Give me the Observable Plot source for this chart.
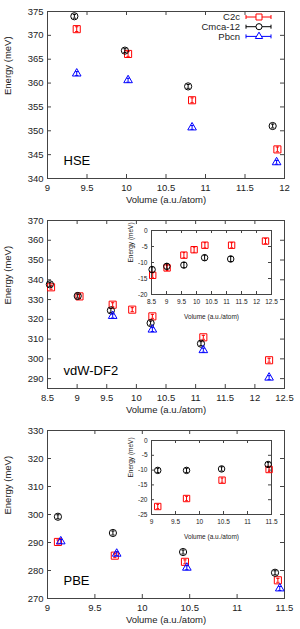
<!DOCTYPE html>
<html><head><meta charset="utf-8">
<script src="https://cdn.jsdelivr.net/npm/d3@7"></script>
<script src="https://cdn.jsdelivr.net/npm/@observablehq/plot@0.6"></script>
<style>
body{margin:0;background:#fff;}
#wrap{position:relative;width:300px;height:629px;overflow:hidden;font-family:"Liberation Sans",Arial,sans-serif;}
#wrap svg{position:absolute;}
</style></head><body><div id="wrap"></div>
<script>
const seriesNames = ["C2c", "Cmca-12", "Pbcn"];
const seriesColors = ["#ff0000", "#000000", "#0000ff"];
const seriesSymbols = ["square", "circle", "triangle"];

// HSE panel
const hseC2cV = [9.37, 10.02, 10.83, 11.91];
const hseC2cE = [371.3, 366.1, 356.4, 346.1];
const hseC2cErr = [0.5, 0.5, 0.5, 0.5];
const hseCmcaV = [9.34, 9.98, 10.78, 11.85];
const hseCmcaE = [374.0, 366.8, 359.3, 351.0];
const hseCmcaErr = [0.4, 0.4, 0.4, 0.4];
const hsePbcnV = [9.37, 10.02, 10.83, 11.90];
const hsePbcnE = [362.0, 360.6, 350.7, 343.4];
const hsePbcnErr = [0.4, 0.4, 0.4, 0.4];
const hseXTicks = [9, 9.5, 10, 10.5, 11, 11.5, 12];
const hseYTicks = [340, 345, 350, 355, 360, 365, 370, 375];

// vdW-DF2 panel
const vdwC2cV = [8.56, 9.04, 9.60, 9.93, 10.27, 11.13, 12.24];
const vdwC2cE = [336.2, 331.6, 327.4, 324.9, 321.5, 310.9, 299.3];
const vdwC2cErr = [1, 1, 1, 1, 1, 1, 1];
const vdwCmcaV = [8.54, 9.01, 9.57, 10.24, 11.09];
const vdwCmcaE = [337.7, 331.8, 324.5, 318.1, 307.7];
const vdwCmcaErr = [1, 1, 1, 1, 1];
const vdwPbcnV = [9.60, 10.27, 11.13, 12.24];
const vdwPbcnE = [321.7, 314.8, 304.4, 290.5];
const vdwPbcnErr = [1, 1, 1, 1];
const vdwXTicks = [8.5, 9, 9.5, 10, 10.5, 11, 11.5, 12, 12.5];
const vdwYTicks = [290, 300, 310, 320, 330, 340, 350, 360, 370];

// vdW-DF2 inset
const vdwInC2cV = [8.54, 9.02, 9.58, 9.92, 10.28, 11.17, 12.30];
const vdwInC2cE = [-14.0, -11.7, -7.7, -6.0, -4.6, -4.6, -3.3];
const vdwInC2cErr = [0.8, 0.8, 0.8, 0.8, 0.8, 0.8, 0.8];
const vdwInCmcaV = [8.52, 9.01, 9.58, 10.27, 11.14];
const vdwInCmcaE = [-12.2, -11.2, -10.8, -8.5, -8.9];
const vdwInCmcaErr = [0.8, 0.8, 0.8, 0.8, 0.8];
const vdwInXTicks = [8.5, 9, 9.5, 10, 10.5, 11, 11.5, 12, 12.5];
const vdwInYTicks = [-20, -15, -10, -5, 0];

// PBE panel
const pbeC2cV = [9.11, 9.71, 10.45, 11.43];
const pbeC2cE = [290.2, 285.3, 283.1, 276.5];
const pbeC2cErr = [0.7, 0.7, 0.7, 0.7];
const pbeCmcaV = [9.11, 9.69, 10.43, 11.40];
const pbeCmcaE = [299.2, 293.4, 286.6, 279.2];
const pbeCmcaErr = [0.7, 0.7, 0.7, 0.7];
const pbePbcnV = [9.14, 9.73, 10.47, 11.45];
const pbePbcnE = [290.4, 286.0, 281.0, 273.6];
const pbePbcnErr = [0.7, 0.7, 0.7, 0.7];
const pbeXTicks = [9, 9.5, 10, 10.5, 11, 11.5];
const pbeYTicks = [270, 280, 290, 300, 310, 320, 330];

// PBE inset
const pbeInC2cV = [9.13, 9.73, 10.47, 11.45];
const pbeInC2cE = [-22.3, -19.6, -13.4, -9.8];
const pbeInC2cErr = [0.7, 0.7, 0.7, 0.7];
const pbeInCmcaV = [9.13, 9.73, 10.46, 11.43];
const pbeInCmcaE = [-10.1, -10.1, -9.6, -8.1];
const pbeInCmcaErr = [0.7, 0.7, 0.7, 0.7];
const pbeInXTicks = [9, 9.5, 10, 10.5, 11, 11.5];
const pbeInYTicks = [-25, -20, -15, -10, -5, 0];

const FONT = "Liberation Sans, Arial, sans-serif";
const AXC = "#444";
const capSymbol = {draw(ctx, size) { const w = Math.sqrt(size / Math.PI); ctx.moveTo(-w, 0); ctx.lineTo(w, 0); }};
const symScale = [1, 0.9, 0.8];

function rows(v, e, err) { return v.map((x, i) => ({v: x, e: e[i], err: err[i]})); }

function seriesMarks(list, r, cap) {
  const marks = [];
  list.forEach(({data, idx}) => {
    const c = seriesColors[idx];
    marks.push(Plot.ruleX(data, {x: "v", y1: d => d.e - d.err, y2: d => d.e + d.err, stroke: c, strokeWidth: 1}));
    marks.push(Plot.dot(data, {x: "v", y: d => d.e - d.err, symbol: capSymbol, r: cap, stroke: c, strokeWidth: 1}));
    marks.push(Plot.dot(data, {x: "v", y: d => d.e + d.err, symbol: capSymbol, r: cap, stroke: c, strokeWidth: 1}));
    marks.push(Plot.dot(data, {x: "v", y: "e", symbol: seriesSymbols[idx], r: r * symScale[idx], stroke: c, fill: "none", strokeWidth: 1}));
  });
  return marks;
}

function panel(o) {
  const W = o.width - o.ml - o.mr, H = o.height - o.mt - o.mb;
  const xt = o.xticks, yt = o.yticks;
  const xin = xt.filter(t => t > o.xdom[0] && t < o.xdom[1]);
  const yin = yt.filter(t => t > o.ydom[0] && t < o.ydom[1]);
  const marks = [
    Plot.frame({stroke: AXC, strokeWidth: 1}),
    Plot.tickX(xin, {x: d => d, insetTop: H - o.tick, stroke: AXC}),
    Plot.tickX(xin, {x: d => d, insetBottom: H - o.tick, stroke: AXC}),
    Plot.tickY(yin, {y: d => d, insetRight: W - o.tick, stroke: AXC}),
    Plot.tickY(yin, {y: d => d, insetLeft: W - o.tick, stroke: AXC}),
    Plot.axisX({ticks: xt, tickSize: 0, tickPadding: o.xpad, tickFormat: d => String(d), label: null, fontSize: o.fs, fill: "#222"}),
    Plot.axisY({ticks: yt, tickSize: 0, tickPadding: o.ypad, tickFormat: d => String(d), label: null, fontSize: o.fs, fill: "#222"}),
    Plot.text(["Volume (a.u./atom)"], {frameAnchor: "bottom", dy: o.xtitle, fontSize: o.fs, fill: "#222"}),
    Plot.text(["Energy (meV)"], {frameAnchor: "left", dx: o.ytitle, rotate: -90, fontSize: o.fs, fill: "#222"}),
    ...seriesMarks(o.series, o.r, o.cap)
  ];
  if (o.name) marks.push(Plot.text([o.name], {frameAnchor: "bottom-left", dx: 16, dy: -14, fontSize: 13, fill: "#000", textAnchor: "start"}));
  const svg = Plot.plot({
    width: o.width, height: o.height,
    marginLeft: o.ml, marginRight: o.mr, marginTop: o.mt, marginBottom: o.mb,
    x: {domain: o.xdom}, y: {domain: o.ydom},
    style: {fontFamily: FONT, background: "transparent", overflow: "visible"},
    marks
  });
  svg.style.left = o.left + "px";
  svg.style.top = o.top + "px";
  return svg;
}

const wrap = document.getElementById("wrap");
const mainOpts = {width: 300, height: 210, ml: 47, mr: 16, mt: 11, tick: 4, xpad: 6, ypad: 4, fs: 9.5, xtitle: 24, ytitle: -40, r: 4, cap: 1.6, left: 0};
const inOpts = {width: 160, ml: 31, mr: 9, tick: 3, xpad: 5, ypad: 4, fs: 6.5, xtitle: 24, ytitle: -21, r: 3.6, cap: 1.3, left: 120};

wrap.appendChild(panel({...mainOpts, top: 0, mb: 32, name: "HSE",
  xdom: [9, 12], ydom: [340, 375], xticks: hseXTicks, yticks: hseYTicks,
  series: [{data: rows(hseC2cV, hseC2cE, hseC2cErr), idx: 0}, {data: rows(hseCmcaV, hseCmcaE, hseCmcaErr), idx: 1}, {data: rows(hsePbcnV, hsePbcnE, hsePbcnErr), idx: 2}]}));

wrap.appendChild(panel({...mainOpts, top: 209, mb: 31, name: "vdW-DF2",
  xdom: [8.5, 12.5], ydom: [285, 370], xticks: vdwXTicks, yticks: vdwYTicks,
  series: [{data: rows(vdwC2cV, vdwC2cE, vdwC2cErr), idx: 0}, {data: rows(vdwCmcaV, vdwCmcaE, vdwCmcaErr), idx: 1}, {data: rows(vdwPbcnV, vdwPbcnE, vdwPbcnErr), idx: 2}]}));

wrap.appendChild(panel({...inOpts, top: 222, height: 100, mt: 8, mb: 28,
  xdom: [8.5, 12.5], ydom: [-20, 0], xticks: vdwInXTicks, yticks: vdwInYTicks,
  series: [{data: rows(vdwInC2cV, vdwInC2cE, vdwInC2cErr), idx: 0}, {data: rows(vdwInCmcaV, vdwInCmcaE, vdwInCmcaErr), idx: 1}]}));

wrap.appendChild(panel({...mainOpts, top: 419, mb: 31, name: "PBE",
  xdom: [9, 11.5], ydom: [270, 330], xticks: pbeXTicks, yticks: pbeYTicks,
  series: [{data: rows(pbeC2cV, pbeC2cE, pbeC2cErr), idx: 0}, {data: rows(pbeCmcaV, pbeCmcaE, pbeCmcaErr), idx: 1}, {data: rows(pbePbcnV, pbePbcnE, pbePbcnErr), idx: 2}]}));

wrap.appendChild(panel({...inOpts, top: 432, height: 110, mt: 8, mb: 28,
  xdom: [9, 11.5], ydom: [-25, 0], xticks: pbeInXTicks, yticks: pbeInYTicks,
  series: [{data: rows(pbeInC2cV, pbeInC2cE, pbeInC2cErr), idx: 0}, {data: rows(pbeInCmcaV, pbeInCmcaE, pbeInCmcaErr), idx: 1}]}));

// legend (panel 1, top right)
const leg = d3.create("svg").attr("width", 90).attr("height", 34)
  .style("left", "190px").style("top", "10px").style("font-family", FONT);
seriesNames.forEach((name, i) => {
  const y = 7 + i * 9.7;
  const g = leg.append("g").attr("transform", `translate(0,${y})`);
  g.append("text").attr("x", 50).attr("y", 0).attr("dy", "0.35em").attr("text-anchor", "end")
    .attr("font-size", 9.5).attr("fill", "#222").text(name);
  const c = seriesColors[i];
  g.append("path").attr("d", "M56,0H81M56,-2V2M81,-2V2").attr("stroke", c).attr("fill", "none");
  const sym = {square: d3.symbolSquare, circle: d3.symbolCircle, triangle: d3.symbolTriangle}[seriesSymbols[i]];
  const rr = 3.4 * symScale[i];
  g.append("path").attr("transform", "translate(69,0)").attr("d", d3.symbol(sym, Math.PI * rr * rr)())
    .attr("stroke", c).attr("fill", "#fff");
});
wrap.appendChild(leg.node());
</script></body></html>
